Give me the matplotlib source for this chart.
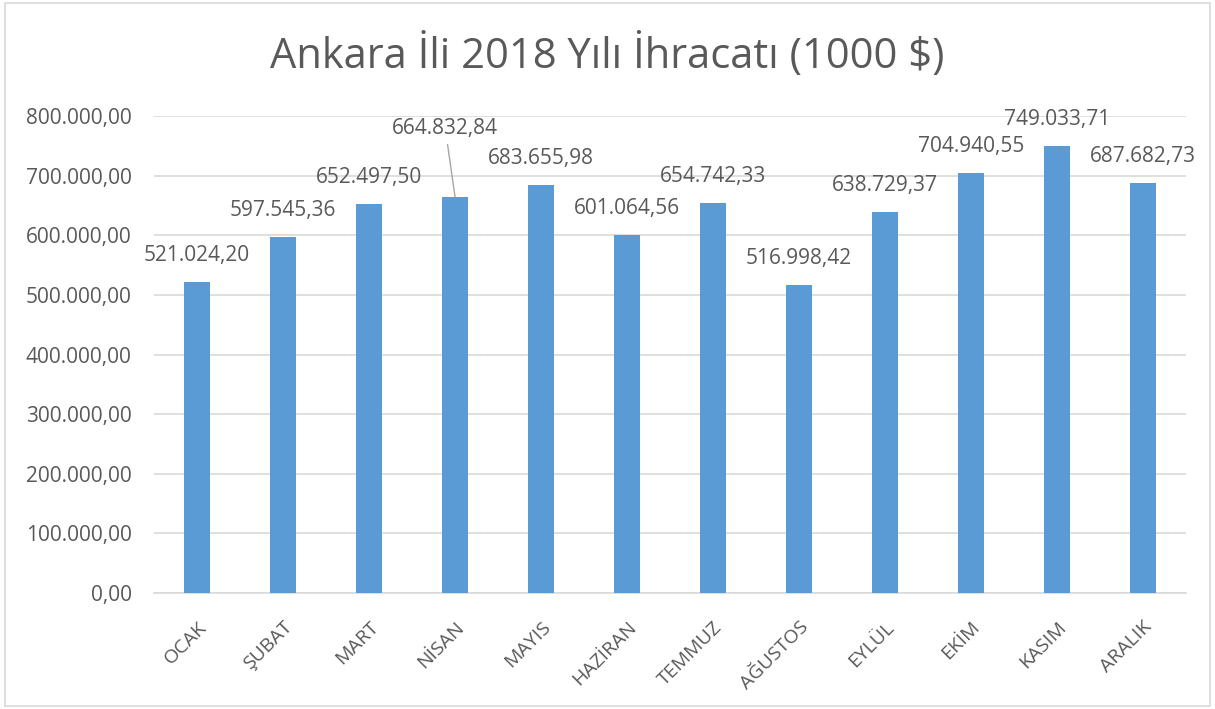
import matplotlib.pyplot as plt
from matplotlib.patches import Rectangle

months = ['OCAK', 'ŞUBAT', 'MART', 'NİSAN', 'MAYIS', 'HAZİRAN', 'TEMMUZ',
          'AĞUSTOS', 'EYLÜL', 'EKİM', 'KASIM', 'ARALIK']
exports = [521024.20, 597545.36, 652497.50, 664832.84, 683655.98, 601064.56,
           654742.33, 516998.42, 638729.37, 704940.55, 749033.71, 687682.73]
yticks = [0, 100000, 200000, 300000, 400000, 500000, 600000, 700000, 800000]


def tr_fmt(v):
    s = f"{v:,.2f}"
    return s.replace(',', 'X').replace('.', ',').replace('X', '.')


plt.rcParams['font.family'] = ['Open Sans', 'DejaVu Sans']
txt_col = '#595959'
grid_col = '#d9d9d9'

fig = plt.figure(figsize=(12.15, 7.09), dpi=100)
fig.patches.append(Rectangle((0.004, 0.004), 0.992, 0.992, transform=fig.transFigure,
                             fill=False, edgecolor=grid_col, linewidth=1.2))
ax = fig.add_axes([0.1268, 0.1636, 0.8492, 0.6728])

x = list(range(len(months)))
ax.bar(x, exports, width=0.3, color='#5B9BD5', zorder=3)
ax.set_xlim(-0.5, len(months) - 0.5)
ax.set_ylim(0, 800000)
ax.set_yticks(yticks)
ax.set_yticklabels([tr_fmt(v) for v in yticks], fontsize=15, color=txt_col)
ax.set_xticks(x)
ax.set_xticklabels(months, rotation=45, ha='right', va='top', rotation_mode='anchor',
                   fontsize=14, color=txt_col)
ax.tick_params(axis='both', length=0)
ax.tick_params(axis='y', pad=16)
ax.tick_params(axis='x', pad=18)
ax.grid(axis='y', color=grid_col, linewidth=1.2, zorder=0)
for s in ['top', 'right', 'left']:
    ax.spines[s].set_visible(False)
ax.spines['bottom'].set_color(grid_col)
ax.spines['bottom'].set_linewidth(1.2)

for i, v in enumerate(exports):
    if months[i] == 'NİSAN':
        ax.annotate(tr_fmt(v), xy=(i, v), xytext=(-7, 49), textcoords='offset points',
                    ha='center', va='center', fontsize=15, color=txt_col,
                    arrowprops=dict(arrowstyle='-', color='#a6a6a6', lw=1,
                                    shrinkA=2, shrinkB=0))
    else:
        ax.annotate(tr_fmt(v), xy=(i, v), xytext=(0, 19), textcoords='offset points',
                    ha='center', va='center', fontsize=15, color=txt_col)

fig.text(0.5, 0.922, 'Ankara İli 2018 Yılı İhracatı (1000 $)', ha='center', va='center',
         fontsize=30, color=txt_col)

fig.savefig('out.png', dpi=100)
